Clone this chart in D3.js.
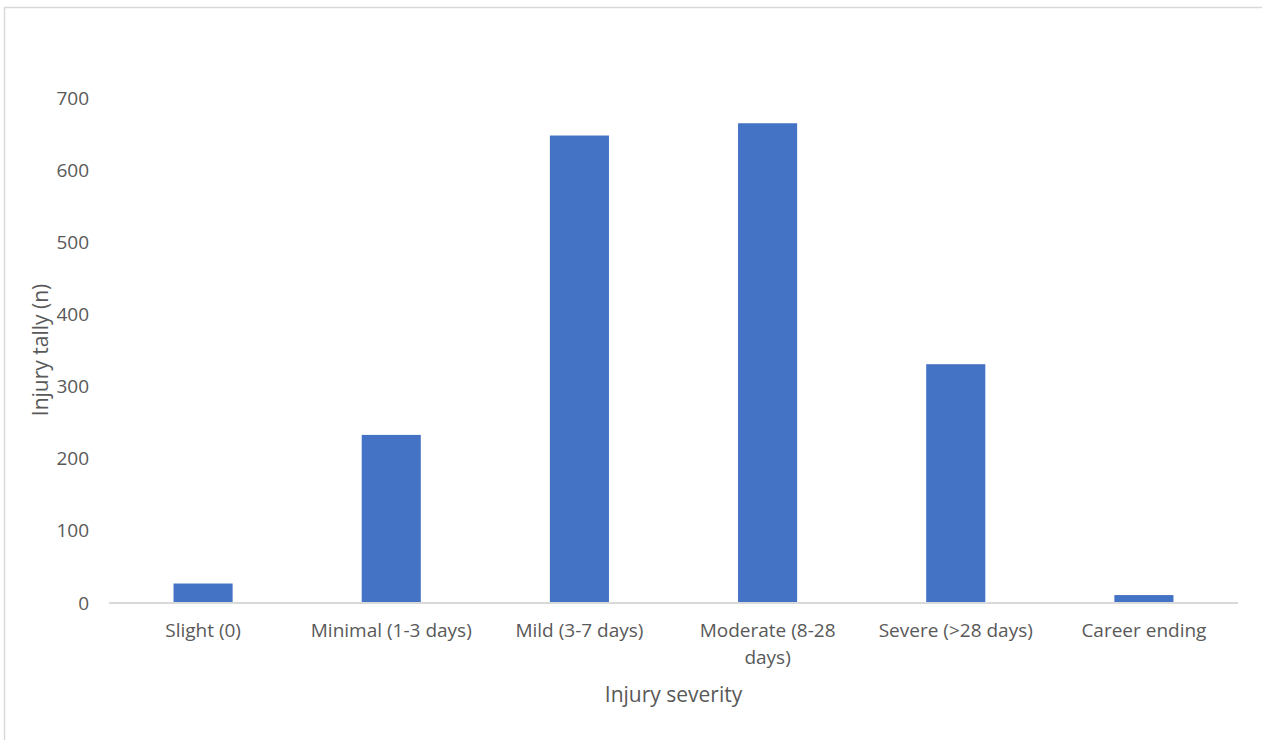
<!DOCTYPE html>
<html><head><meta charset="utf-8">
<script src="https://cdn.jsdelivr.net/npm/d3@7"></script>
<style>html,body{margin:0;padding:0;background:#fff;overflow:hidden}</style>
</head><body><svg id="c" width="1262" height="740"></svg>
<script>
const categories = ["Slight (0)", "Minimal (1-3 days)", "Mild (3-7 days)", "Moderate (8-28 days)", "Severe (>28 days)", "Career ending"];
const values = [27, 233, 648, 665, 331, 11];
const yTicks = [0, 100, 200, 300, 400, 500, 600, 700];
const xTitle = "Injury severity";
const yTitle = "Injury tally (n)";

(function () {
const svg = d3.select("#c");
const font = "'Open Sans', 'Noto Sans', sans-serif";
const textColor = "#595959";

svg.append("rect").attr("x", 4.5).attr("y", 7.5).attr("width", 1300).attr("height", 800)
  .attr("fill", "#fff").attr("stroke", "#d9d9d9").attr("stroke-width", 1.5);

const pL = 109, pR = 1238, pT = 98, pB = 603;
const x = d3.scaleBand().domain(categories).range([pL, pR]).paddingInner(0.686).paddingOuter(0.343);
const y = d3.scaleLinear().domain([0, 700]).range([pB, pT]);

svg.append("g").selectAll("rect").data(values).join("rect")
  .attr("x", (d, i) => x(categories[i]))
  .attr("width", x.bandwidth())
  .attr("y", d => y(d))
  .attr("height", d => y(0) - y(d))
  .attr("fill", "#4472C4");

const yAxis = svg.append("g").attr("transform", `translate(${pL},0)`)
  .call(d3.axisLeft(y).tickValues(yTicks).tickSize(0).tickPadding(20).tickFormat(d3.format("d")));
yAxis.select(".domain").remove();
yAxis.selectAll("text").attr("font-family", font).attr("font-size", 19).attr("fill", textColor);

const xAxis = svg.append("g").attr("transform", `translate(0,${pB})`)
  .call(d3.axisBottom(x).tickSize(0).tickPadding(21).tickSizeOuter(0));
xAxis.select(".domain").attr("stroke", "#d9d9d9").attr("stroke-width", 2)
  .attr("d", `M${pL},0H${pR}`);
xAxis.selectAll("text").attr("font-family", font).attr("font-size", 19).attr("fill", textColor)
  .each(function(d) {
    const t = d3.select(this);
    const words = d.split(" ");
    t.text(null);
    const maxW = 172;
    let line = [], lines = [];
    const probe = t.append("tspan");
    words.forEach(w => {
      const test = line.concat([w]).join(" ");
      probe.text(test);
      if (probe.node().getComputedTextLength() > maxW && line.length) {
        lines.push(line.join(" ")); line = [w];
      } else line.push(w);
    });
    lines.push(line.join(" "));
    probe.remove();
    lines.forEach((l, i) => t.append("tspan").attr("x", 0).attr("dy", i === 0 ? "0.71em" : "1.38em").text(l));
  });

svg.append("text").attr("x", (pL + pR) / 2).attr("y", 702).attr("text-anchor", "middle")
  .attr("font-family", font).attr("font-size", 21).attr("fill", textColor).text(xTitle);

svg.append("text").attr("transform", `translate(48,350) rotate(-90)`).attr("text-anchor", "middle")
  .attr("font-family", font).attr("font-size", 21).attr("fill", textColor).text(yTitle);
})();
</script></body></html>
